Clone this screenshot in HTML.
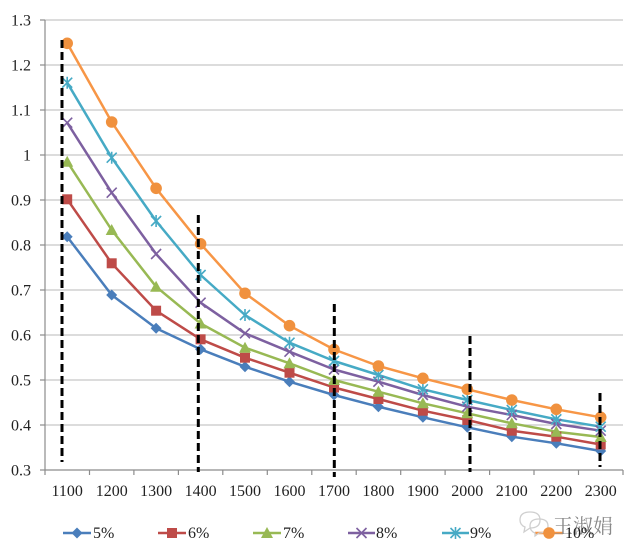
<!DOCTYPE html>
<html><head><meta charset="utf-8"><style>
html,body{margin:0;padding:0;background:#fff;}
svg{display:block;}
text{font-family:"Liberation Serif","Noto Serif CJK SC",serif;}
</style></head><body>
<svg width="636" height="555" viewBox="0 0 636 555" xmlns="http://www.w3.org/2000/svg">
<rect width="636" height="555" fill="#fff"/>
<g stroke="#c8c8c8" stroke-width="1.2">
<line x1="45" y1="20" x2="623" y2="20"/>
<line x1="45" y1="65" x2="623" y2="65"/>
<line x1="45" y1="110" x2="623" y2="110"/>
<line x1="45" y1="155" x2="623" y2="155"/>
<line x1="45" y1="200" x2="623" y2="200"/>
<line x1="45" y1="245" x2="623" y2="245"/>
<line x1="45" y1="290" x2="623" y2="290"/>
<line x1="45" y1="335" x2="623" y2="335"/>
<line x1="45" y1="380" x2="623" y2="380"/>
<line x1="45" y1="425" x2="623" y2="425"/>
</g>
<g stroke="#8c8c8c" stroke-width="1.2">
<line x1="45" y1="20" x2="45" y2="470"/>
<line x1="45" y1="470" x2="623" y2="470"/>
<line x1="40" y1="20" x2="45" y2="20"/><line x1="40" y1="65" x2="45" y2="65"/><line x1="40" y1="110" x2="45" y2="110"/><line x1="40" y1="155" x2="45" y2="155"/><line x1="40" y1="200" x2="45" y2="200"/><line x1="40" y1="245" x2="45" y2="245"/><line x1="40" y1="290" x2="45" y2="290"/><line x1="40" y1="335" x2="45" y2="335"/><line x1="40" y1="380" x2="45" y2="380"/><line x1="40" y1="425" x2="45" y2="425"/><line x1="40" y1="470" x2="45" y2="470"/>
<line x1="45" y1="470" x2="45" y2="475"/><line x1="89.5" y1="470" x2="89.5" y2="475"/><line x1="133.9" y1="470" x2="133.9" y2="475"/><line x1="178.4" y1="470" x2="178.4" y2="475"/><line x1="222.8" y1="470" x2="222.8" y2="475"/><line x1="267.3" y1="470" x2="267.3" y2="475"/><line x1="311.8" y1="470" x2="311.8" y2="475"/><line x1="356.2" y1="470" x2="356.2" y2="475"/><line x1="400.7" y1="470" x2="400.7" y2="475"/><line x1="445.1" y1="470" x2="445.1" y2="475"/><line x1="489.6" y1="470" x2="489.6" y2="475"/><line x1="534" y1="470" x2="534" y2="475"/><line x1="578.5" y1="470" x2="578.5" y2="475"/><line x1="623" y1="470" x2="623" y2="475"/>
</g>
<g font-size="16" fill="#222" text-anchor="end">
<text x="31" y="25.5">1.3</text><text x="31" y="70.5">1.2</text><text x="31" y="115.5">1.1</text><text x="31" y="160.5">1</text><text x="31" y="205.5">0.9</text><text x="31" y="250.5">0.8</text><text x="31" y="295.5">0.7</text><text x="31" y="340.5">0.6</text><text x="31" y="385.5">0.5</text><text x="31" y="430.5">0.4</text><text x="31" y="475.5">0.3</text>
</g>
<g font-size="16" fill="#222" text-anchor="middle">
<text x="67.2" y="496">1100</text><text x="111.7" y="496">1200</text><text x="156.1" y="496">1300</text><text x="200.6" y="496">1400</text><text x="245" y="496">1500</text><text x="289.5" y="496">1600</text><text x="334" y="496">1700</text><text x="378.4" y="496">1800</text><text x="422.9" y="496">1900</text><text x="467.3" y="496">2000</text><text x="511.8" y="496">2100</text><text x="556.3" y="496">2200</text><text x="600.7" y="496">2300</text>
</g>
<g fill="none" stroke-width="2.5" stroke-linejoin="round">
<polyline stroke="#4A7EBB" points="67.2,236.7 111.7,295 156.1,328.3 200.6,349.3 245,366.7 289.5,381.7 334,395 378.4,406.7 422.9,417.3 467.3,427.3 511.8,436.7 556.3,443.3 600.7,451"/>
<polyline stroke="#BE4B48" points="67.2,199.3 111.7,263.3 156.1,310.7 200.6,339.3 245,357.7 289.5,372.7 334,387.5 378.4,399 422.9,410.7 467.3,420 511.8,430.7 556.3,436.7 600.7,444.5"/>
<polyline stroke="#98B954" points="67.2,161.7 111.7,230 156.1,286.7 200.6,323.5 245,347.7 289.5,363.3 334,380 378.4,391.7 422.9,403.3 467.3,413.3 511.8,423.3 556.3,431.7 600.7,437"/>
<polyline stroke="#7D60A0" points="67.2,122.7 111.7,192.7 156.1,254 200.6,302.7 245,333.3 289.5,351.7 334,369.5 378.4,381.7 422.9,395 467.3,406.7 511.8,415 556.3,424 600.7,430.7"/>
<polyline stroke="#46AAC5" points="67.2,82.7 111.7,157.7 156.1,221 200.6,275 245,315 289.5,342.7 334,361 378.4,375 422.9,389.3 467.3,400 511.8,410 556.3,419.3 600.7,426.7"/>
<polyline stroke="#F79646" points="67.2,43.3 111.7,122 156.1,188.3 200.6,243.8 245,293.3 289.5,325.7 334,349.5 378.4,366 422.9,378.3 467.3,389.3 511.8,400 556.3,409.3 600.7,417.3"/>
</g>
<defs>
<path id="dia" d="M0,-5.5 L5.5,0 L0,5.5 L-5.5,0 Z"/>
<rect id="sq" x="-5" y="-5" width="10" height="10"/>
<path id="tri" d="M0,-6 L6,5 L-6,5 Z"/>
<path id="xm" d="M-5,-5 L5,5 M-5,5 L5,-5"/>
<path id="st" d="M-5,-5 L5,5 M-5,5 L5,-5 M0,-6 L0,6"/>
<circle id="ci" r="5.8"/>
</defs>
<g fill="#4A7EBB">
<use href="#dia" x="67.2" y="236.7"/><use href="#dia" x="111.7" y="295"/><use href="#dia" x="156.1" y="328.3"/><use href="#dia" x="200.6" y="349.3"/><use href="#dia" x="245" y="366.7"/><use href="#dia" x="289.5" y="381.7"/><use href="#dia" x="334" y="395"/><use href="#dia" x="378.4" y="406.7"/><use href="#dia" x="422.9" y="417.3"/><use href="#dia" x="467.3" y="427.3"/><use href="#dia" x="511.8" y="436.7"/><use href="#dia" x="556.3" y="443.3"/><use href="#dia" x="600.7" y="451"/>
</g>
<g fill="#BE4B48">
<use href="#sq" x="67.2" y="199.3"/><use href="#sq" x="111.7" y="263.3"/><use href="#sq" x="156.1" y="310.7"/><use href="#sq" x="200.6" y="339.3"/><use href="#sq" x="245" y="357.7"/><use href="#sq" x="289.5" y="372.7"/><use href="#sq" x="334" y="387.5"/><use href="#sq" x="378.4" y="399"/><use href="#sq" x="422.9" y="410.7"/><use href="#sq" x="467.3" y="420"/><use href="#sq" x="511.8" y="430.7"/><use href="#sq" x="556.3" y="436.7"/><use href="#sq" x="600.7" y="444.5"/>
</g>
<g fill="#98B954">
<use href="#tri" x="67.2" y="161.7"/><use href="#tri" x="111.7" y="230"/><use href="#tri" x="156.1" y="286.7"/><use href="#tri" x="200.6" y="323.5"/><use href="#tri" x="245" y="347.7"/><use href="#tri" x="289.5" y="363.3"/><use href="#tri" x="334" y="380"/><use href="#tri" x="378.4" y="391.7"/><use href="#tri" x="422.9" y="403.3"/><use href="#tri" x="467.3" y="413.3"/><use href="#tri" x="511.8" y="423.3"/><use href="#tri" x="556.3" y="431.7"/><use href="#tri" x="600.7" y="437"/>
</g>
<g stroke="#7D60A0" stroke-width="1.6" fill="none">
<use href="#xm" x="67.2" y="122.7"/><use href="#xm" x="111.7" y="192.7"/><use href="#xm" x="156.1" y="254"/><use href="#xm" x="200.6" y="302.7"/><use href="#xm" x="245" y="333.3"/><use href="#xm" x="289.5" y="351.7"/><use href="#xm" x="334" y="369.5"/><use href="#xm" x="378.4" y="381.7"/><use href="#xm" x="422.9" y="395"/><use href="#xm" x="467.3" y="406.7"/><use href="#xm" x="511.8" y="415"/><use href="#xm" x="556.3" y="424"/><use href="#xm" x="600.7" y="430.7"/>
</g>
<g stroke="#46AAC5" stroke-width="1.6" fill="none">
<use href="#st" x="67.2" y="82.7"/><use href="#st" x="111.7" y="157.7"/><use href="#st" x="156.1" y="221"/><use href="#st" x="200.6" y="275"/><use href="#st" x="245" y="315"/><use href="#st" x="289.5" y="342.7"/><use href="#st" x="334" y="361"/><use href="#st" x="378.4" y="375"/><use href="#st" x="422.9" y="389.3"/><use href="#st" x="467.3" y="400"/><use href="#st" x="511.8" y="410"/><use href="#st" x="556.3" y="419.3"/><use href="#st" x="600.7" y="426.7"/>
</g>
<g fill="#F0913E">
<use href="#ci" x="67.2" y="43.3"/><use href="#ci" x="111.7" y="122"/><use href="#ci" x="156.1" y="188.3"/><use href="#ci" x="200.6" y="243.8"/><use href="#ci" x="245" y="293.3"/><use href="#ci" x="289.5" y="325.7"/><use href="#ci" x="334" y="349.5"/><use href="#ci" x="378.4" y="366"/><use href="#ci" x="422.9" y="378.3"/><use href="#ci" x="467.3" y="389.3"/><use href="#ci" x="511.8" y="400"/><use href="#ci" x="556.3" y="409.3"/><use href="#ci" x="600.7" y="417.3"/>
</g>
<g stroke="#000" stroke-width="3" stroke-dasharray="8,4">
<line x1="62" y1="40" x2="62" y2="462"/>
<line x1="198.3" y1="215" x2="198.3" y2="472"/>
<line x1="334.3" y1="304" x2="334.3" y2="477"/>
<line x1="470" y1="336" x2="470" y2="472"/>
<line x1="600" y1="393" x2="600" y2="467"/>
</g>
<!-- legend -->
<g stroke-width="2.5">
<line x1="63" y1="533" x2="91" y2="533" stroke="#4A7EBB"/>
<line x1="158" y1="533" x2="186" y2="533" stroke="#BE4B48"/>
<line x1="253" y1="533" x2="281" y2="533" stroke="#98B954"/>
<line x1="348" y1="533" x2="375" y2="533" stroke="#7D60A0"/>
<line x1="442" y1="533" x2="469" y2="533" stroke="#46AAC5"/>
<line x1="535" y1="533" x2="563" y2="533" stroke="#F79646"/>
</g>
<use href="#dia" x="77" y="533" fill="#4A7EBB"/>
<use href="#sq" x="172" y="533" fill="#BE4B48"/>
<use href="#tri" x="267" y="533" fill="#98B954"/>
<use href="#xm" x="361.5" y="533" stroke="#7D60A0" stroke-width="1.6" fill="none"/>
<use href="#st" x="455.5" y="533" stroke="#46AAC5" stroke-width="1.6" fill="none"/>
<!-- watermark -->
<g fill="none" stroke="#cfcfcf" stroke-width="1.3">
<path d="M520,520 q0,-8 10,-8 q10,0 10,8 q0,8 -10,8 l-6,4 l1,-5 q-5,-2 -5,-7 Z"/>
<path d="M530,526 q0,-7 9,-7 q9,0 9,7 q0,7 -9,7 l-4,3 l0,-3 q-5,-2 -5,-7 Z"/>
</g>
<text x="553" y="533" font-size="20" fill="#8a8a8a" font-family="'Noto Sans CJK SC',sans-serif">王淑娟</text>
<use href="#ci" x="549" y="533" fill="#F0913E"/>
<g font-size="16" fill="#222">
<text x="93" y="538">5%</text>
<text x="188" y="538">6%</text>
<text x="283" y="538">7%</text>
<text x="376" y="538">8%</text>
<text x="470" y="538">9%</text>
<text x="565" y="538">10%</text>
</g>
</svg>
</body></html>
